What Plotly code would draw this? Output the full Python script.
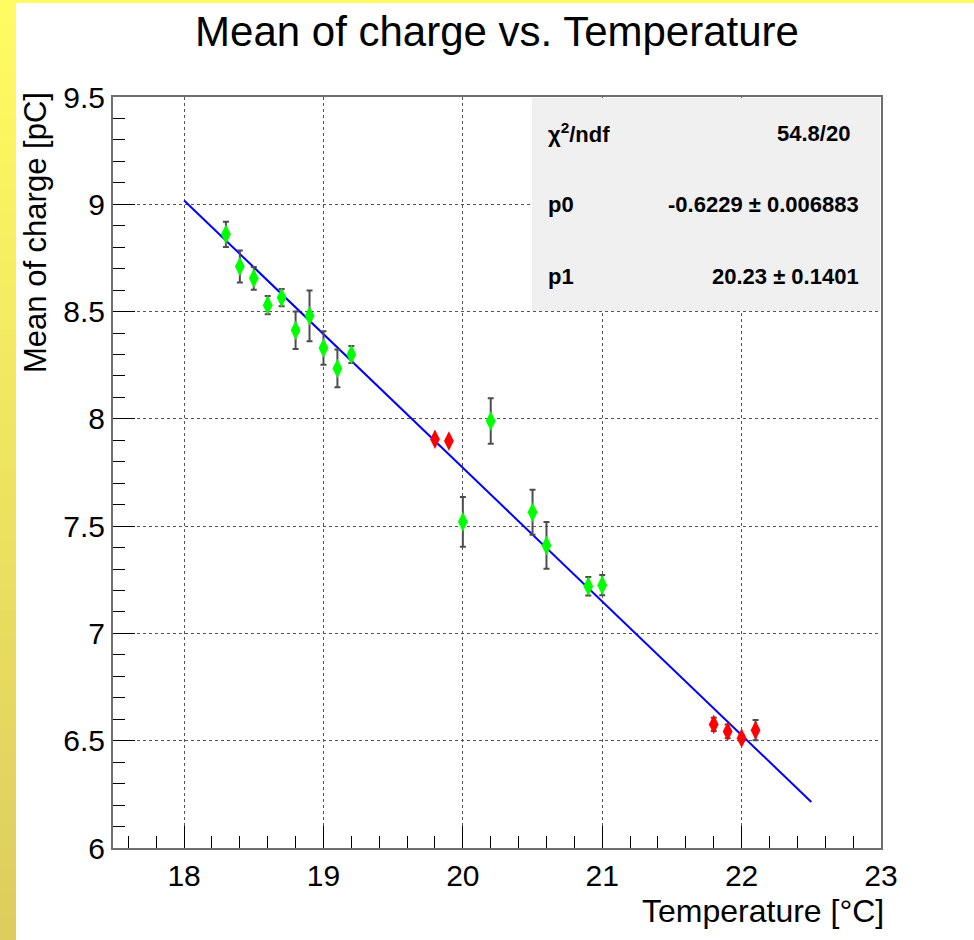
import numpy as np
import plotly.graph_objects as go

# Canvas and frame geometry (pixels)
W, H = 974, 940
L, R, T, B = 113, 93, 97, 92
PW, PH = W - L - R, H - T - B

# Mean collected charge per temperature point (green: main sample, red: extra runs)
temp_green = [18.3, 18.4, 18.5, 18.6, 18.7, 18.8, 18.9, 19.0, 19.1, 19.2,
              20.0, 20.2, 20.5, 20.6, 20.9, 21.0]
charge_green = [8.86, 8.71, 8.655, 8.53, 8.565, 8.413, 8.48, 8.33, 8.235, 8.30,
                7.52, 7.99, 7.565, 7.41, 7.22, 7.225]
err_green = [0.059, 0.075, 0.053, 0.043, 0.040, 0.087, 0.118, 0.078, 0.088, 0.040,
             0.116, 0.106, 0.105, 0.109, 0.043, 0.047]

temp_red = [19.8, 19.9, 21.8, 21.9, 22.0, 22.1]
charge_red = [7.905, 7.897, 6.576, 6.543, 6.512, 6.549]
err_red = [0.008, 0.008, 0.031, 0.032, 0.015, 0.047]

# Linear fit: charge = p0 * T + p1
p0, p0_err = -0.6229, 0.006883
p1, p1_err = 20.23, 0.1401
chi2, ndf = 54.8, 20
fit_range = [18.0, 22.5]

x_range = [17.49, 23.0]
y_range = [6.0, 9.5]

FONT = "Liberation Sans, Arial, Helvetica, sans-serif"


def px_x(px):
    return (px - L) / PW


def px_y(py):
    return (H - B - py) / PH


fit_x = np.linspace(fit_range[0], fit_range[1], 50)
fit_y = p0 * fit_x + p1

fig = go.Figure()

fig.add_trace(go.Scatter(
    x=fit_x, y=fit_y, mode="lines",
    line=dict(color="#0000ff", width=2), hoverinfo="skip", showlegend=False))

err_style = dict(type="data", color="#4d4d4d", thickness=2, width=3)

fig.add_trace(go.Scatter(
    x=temp_green, y=charge_green, mode="markers",
    error_y=dict(array=err_green, **err_style),
    marker=dict(symbol="diamond-tall", size=14, color="#00ff00"),
    showlegend=False))

fig.add_trace(go.Scatter(
    x=temp_red, y=charge_red, mode="markers",
    error_y=dict(array=err_red, **err_style),
    marker=dict(symbol="diamond-tall", size=14, color="#ff0000"),
    showlegend=False))

shapes = []
# Yellow canvas border: gradient strip down the left edge plus a thin top strip
n_strips = 40
c_top = np.array([255, 251, 98])
c_bot = np.array([221, 205, 94])
for i in range(n_strips):
    f = i / (n_strips - 1)
    c = (c_top * (1 - f) + c_bot * f).round().astype(int)
    y0 = i * H / n_strips
    y1 = (i + 1) * H / n_strips + 0.5
    shapes.append(dict(type="rect", xref="paper", yref="paper",
                       x0=px_x(0), x1=px_x(16), y0=px_y(y1), y1=px_y(y0),
                       line=dict(width=0),
                       fillcolor=f"rgb({c[0]},{c[1]},{c[2]})", layer="below"))
shapes.append(dict(type="rect", xref="paper", yref="paper",
                   x0=px_x(0), x1=px_x(W), y0=px_y(3), y1=px_y(0),
                   line=dict(width=0), fillcolor="rgb(255,251,98)", layer="below"))

# Fit statistics panel, drawn over the grid
shapes.append(dict(type="rect", xref="paper", yref="paper",
                   x0=px_x(532), x1=px_x(880), y0=px_y(311), y1=px_y(98),
                   line=dict(width=0), fillcolor="#f0f0f0", layer="above"))

stat_font = dict(family=FONT, size=22, color="black")
annotations = []
stat_rows = [
    ("<b>χ<sup>2</sup>/ndf</b>", f"<b>{chi2:g}/{ndf}</b>", 133, 852),
    ("<b>p0</b>", f"<b>{p0:.4f} ± {p0_err:g}</b>", 205, 861),
    ("<b>p1</b>", f"<b>{p1:.2f} ± {p1_err:g}</b>", 276, 861),
]
for label, value, py, right in stat_rows:
    annotations.append(dict(xref="paper", yref="paper", x=px_x(546), y=px_y(py),
                            xanchor="left", yanchor="middle", text=label,
                            showarrow=False, font=stat_font))
    annotations.append(dict(xref="paper", yref="paper", x=px_x(right), y=px_y(py),
                            xanchor="right", yanchor="middle", text=value,
                            showarrow=False, font=stat_font))

# Axis titles, aligned to the far ends of their axes
annotations.append(dict(xref="paper", yref="paper", x=px_x(763), y=px_y(911),
                        xanchor="center", yanchor="middle",
                        text="Temperature [°C]", showarrow=False,
                        font=dict(family=FONT, size=32, color="black")))
annotations.append(dict(xref="paper", yref="paper", x=px_x(35), y=px_y(233),
                        xanchor="center", yanchor="middle", textangle=-90,
                        text="Mean of charge [pC]", showarrow=False,
                        font=dict(family=FONT, size=31, color="black")))

axis_common = dict(
    showline=True, linecolor="#6e6e6e", linewidth=2, mirror=True,
    ticks="inside", tickcolor="black", tickwidth=1, ticklen=22,
    showgrid=True, gridcolor="#555555", griddash="dot", gridwidth=1,
    zeroline=False,
    tickfont=dict(family=FONT, size=30, color="black"),
)

fig.update_xaxes(range=x_range, dtick=1, tick0=18,
                 minor=dict(dtick=0.2, tick0=18, ticks="inside", ticklen=12,
                            tickcolor="black", showgrid=False),
                 **axis_common)
fig.update_yaxes(range=y_range, dtick=0.5, tick0=6,
                 minor=dict(dtick=0.1, tick0=6, ticks="inside", ticklen=12,
                            tickcolor="black", showgrid=False),
                 **axis_common)

fig.update_layout(
    width=W, height=H,
    margin=dict(l=L, r=R, t=T, b=B),
    paper_bgcolor="white", plot_bgcolor="white",
    title=dict(text="Mean of charge vs. Temperature",
               xref="container", yref="container",
               x=497 / W, y=1 - 31 / H, xanchor="center", yanchor="middle",
               font=dict(family=FONT, size=42, color="black")),
    shapes=shapes, annotations=annotations,
    font=dict(family=FONT, color="black"),
)

fig.write_html("out.html", config={"displayModeBar": False})
